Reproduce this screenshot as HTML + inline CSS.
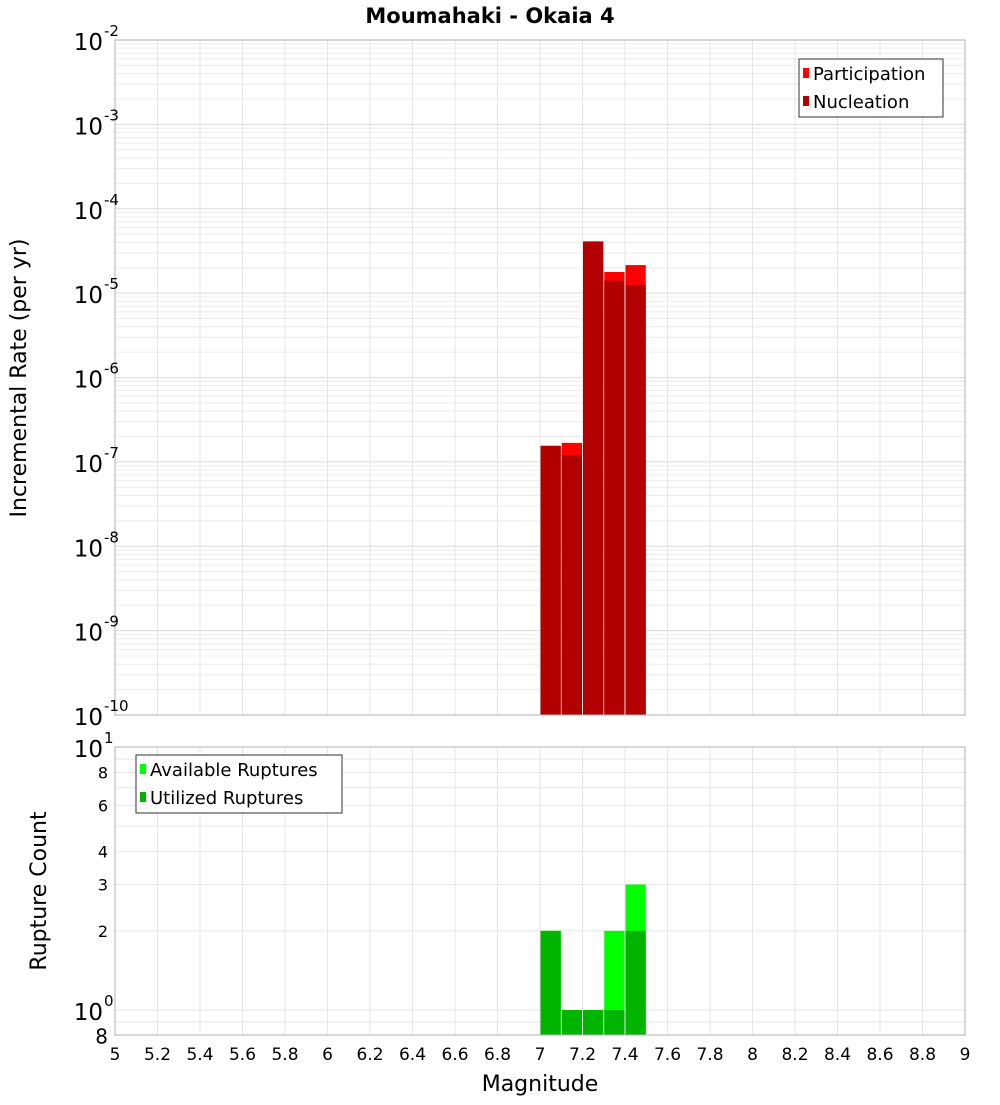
<!DOCTYPE html>
<html><head><meta charset="utf-8"><style>
body{margin:0;background:#fff;font-family:"Liberation Sans","DejaVu Sans",sans-serif}
svg text{font-family:"DejaVu Sans","Liberation Sans",sans-serif}
</style></head><body>
<svg id="c" width="1000" height="1100" xmlns="http://www.w3.org/2000/svg">
<text x="490" y="23" text-anchor="middle" font-size="21" font-weight="bold">Moumahaki - Okaia 4</text>
</svg>
<script>
const bins=[7.0,7.1,7.2,7.3,7.4];
const participation=[1.55e-7,1.68e-7,4.1e-5,1.78e-5,2.15e-5];
const nucleation=[1.55e-7,1.2e-7,4.1e-5,1.4e-5,1.25e-5];
const available=[2,1,1,2,3];
const utilized=[2,1,1,1,2];
const xTicks=[5,5.2,5.4,5.6,5.8,6,6.2,6.4,6.6,6.8,7,7.2,7.4,7.6,7.8,8,8.2,8.4,8.6,8.8,9];
const topExps=[-2,-3,-4,-5,-6,-7,-8,-9,-10];
const botMinorLabels=[8,6,4,3,2];

const svg=document.getElementById('c');const NS='http://www.w3.org/2000/svg';
function mk(t,a,p){const e=document.createElementNS(NS,t);for(const k in a)e.setAttribute(k,a[k]);(p||svg).appendChild(e);return e;}
const X0=115,X1=965;
const xs=m=>X0+(m-5)/4*(X1-X0);
const T0=40,T1=715;
const yTop=v=>T0+(-2-Math.log10(v))/8*(T1-T0);
const B0=747,B1=1035;
const yBot=v=>B0+(1-Math.log10(v))*263;

// top grid
const gTop=mk('g',{});


for(let e=-10;e<-2;e++)for(let k=1;k<10;k++){const y=yTop(k*Math.pow(10,e));const l=mk('line',{x1:X0,x2:X1,y1:y,y2:y,stroke:k==1?'#dcdcdc':'#ececec','stroke-width':1},gTop);}
xTicks.forEach(m=>{mk('line',{x1:xs(m),x2:xs(m),y1:T0,y2:T1,stroke:'#e6e6e6'},gTop);});
// bottom grid
const gB=mk('g',{});


for(let k=1;k<=10;k++){const y=yBot(k);if(y>=B0)mk('line',{x1:X0,x2:X1,y1:y,y2:y,stroke:'#e6e6e6'},gB);}
mk('line',{x1:X0,x2:X1,y1:yBot(0.9),y2:yBot(0.9),stroke:'#e6e6e6'},gB);
xTicks.forEach(m=>{mk('line',{x1:xs(m),x2:xs(m),y1:B0,y2:B1,stroke:'#e6e6e6'},gB);});

// top bars
bins.forEach((b,i)=>{
 const x=xs(b)+0.5,w=xs(b+0.1)-xs(b)-1;
 let r=mk('rect',{x:x,y:yTop(participation[i]),width:w,height:T1-yTop(participation[i]),fill:'#ff0000'});
 
 
 r=mk('rect',{x:x,y:yTop(nucleation[i]),width:w,height:T1-yTop(nucleation[i]),fill:'#b20000'});
 
 
});
// bottom bars
bins.forEach((b,i)=>{
 const x=xs(b)+0.5,w=xs(b+0.1)-xs(b)-1;
 let r=mk('rect',{x:x,y:yBot(available[i]),width:w,height:B1-yBot(available[i]),fill:'#00ff00'});
 
 
 r=mk('rect',{x:x,y:yBot(utilized[i]),width:w,height:B1-yBot(utilized[i]),fill:'#00b400'});
 
 
});
// frames
mk('rect',{x:X0,y:T0,width:X1-X0,height:T1-T0,fill:'none',stroke:'#b0b0b0'});
mk('rect',{x:X0,y:B0,width:X1-X0,height:B1-B0,fill:'none',stroke:'#b0b0b0'});

// top y labels
topExps.forEach(e=>{
 const y=yTop(Math.pow(10,e));
 const t=mk('text',{x:103,y:y+10,'text-anchor':'end','font-size':23});
 
 
 t.textContent='10';
 const s=mk('text',{x:104,y:y-4,'font-size':15});
 
 
 s.textContent=String(e);
});
// bottom y labels
[[10,'1'],[1,'0']].forEach(([v,e])=>{
 const y=yBot(v);
 const t=mk('text',{x:103,y:y+10,'text-anchor':'end','font-size':23});
 
 
 t.textContent='10';
 const s=mk('text',{x:104,y:y-4,'font-size':15});
 
 
 s.textContent=e;
});
botMinorLabels.forEach(v=>{
 const t=mk('text',{x:108,y:yBot(v)+6,'text-anchor':'end','font-size':16});
 
 
 t.textContent=v;
});
{const t=mk('text',{x:108,y:yBot(0.8)+8,'text-anchor':'end','font-size':20});
 
 
 t.textContent='8';}
// x labels
xTicks.forEach(m=>{
 const t=mk('text',{x:xs(m),y:1060,'text-anchor':'middle','font-size':17});
 
 
 t.textContent=String(m);
});
</script>
<svg style="position:absolute;left:0;top:0" width="1000" height="1100" xmlns="http://www.w3.org/2000/svg">
<text x="540" y="1091" text-anchor="middle" font-size="22">Magnitude</text>
<text transform="translate(26,378) rotate(-90)" text-anchor="middle" font-size="22">Incremental Rate (per yr)</text>
<text transform="translate(46,891) rotate(-90)" text-anchor="middle" font-size="22">Rupture Count</text>
<g>
<rect x="799" y="59" width="144" height="58" fill="#fff" stroke="#333"/>
<rect x="803" y="68" width="6" height="10" fill="#ff0000"/>
<text x="813" y="80" font-size="18">Participation</text>
<rect x="803" y="96" width="6" height="10" fill="#b20000"/>
<text x="813" y="108" font-size="18">Nucleation</text>
</g>
<g>
<rect x="136" y="755" width="206" height="58" fill="#fff" stroke="#333"/>
<rect x="140" y="764" width="6" height="10" fill="#00ff00"/>
<text x="150" y="776" font-size="18">Available Ruptures</text>
<rect x="140" y="792" width="6" height="10" fill="#00b400"/>
<text x="150" y="804" font-size="18">Utilized Ruptures</text>
</g>
</svg>
</body></html>
